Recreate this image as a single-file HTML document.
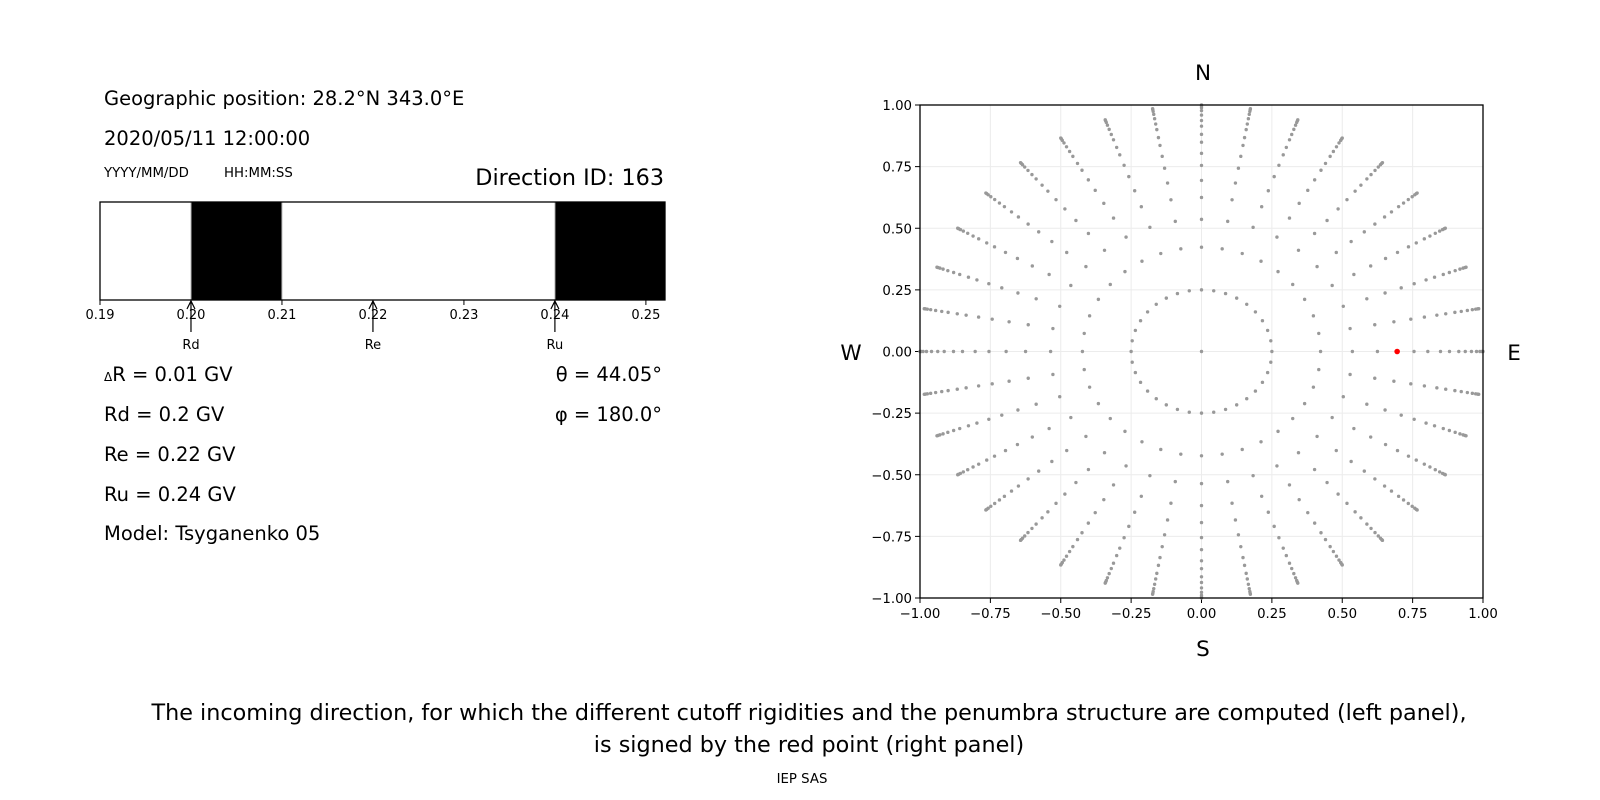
<!DOCTYPE html>
<html><head><meta charset="utf-8"><style>
body{margin:0;background:#fff;}
svg{display:block;font-family:"DejaVu Sans","Liberation Sans",sans-serif;}
</style></head><body>
<svg id="fig" width="1600" height="800" viewBox="0 0 1600 800">
<g>
<text x="104" y="105" font-size="19.5">Geographic position: 28.2°N 343.0°E</text>
<text x="104" y="145" font-size="19.5">2020/05/11 12:00:00</text>
<text x="104" y="177" font-size="13.3">YYYY/MM/DD</text>
<text x="224" y="177" font-size="13.3">HH:MM:SS</text>
<text x="664" y="185" font-size="22.3" text-anchor="end">Direction ID: 163</text>
<g id="bar"></g>
<text x="104" y="381" font-size="19.5"><tspan font-size="12">Δ</tspan>R = 0.01 GV</text>
<text x="104" y="421" font-size="19.5">Rd = 0.2 GV</text>
<text x="104" y="461" font-size="19.5">Re = 0.22 GV</text>
<text x="104" y="501" font-size="19.5">Ru = 0.24 GV</text>
<text x="104" y="540" font-size="19.5">Model: Tsyganenko 05</text>
<text x="662" y="381" font-size="19.5" text-anchor="end">θ = 44.05°</text>
<text x="662" y="421" font-size="19.5" text-anchor="end">φ = 180.0°</text>
</g>
<g id="sky"></g>
<text x="1203" y="80" font-size="21.5" text-anchor="middle">N</text>
<text x="1203" y="656" font-size="21.5" text-anchor="middle">S</text>
<text x="851" y="360" font-size="21.5" text-anchor="middle">W</text>
<text x="1514" y="360" font-size="21.5" text-anchor="middle">E</text>
<text x="809" y="720" font-size="22.3" text-anchor="middle">The incoming direction, for which the different cutoff rigidities and the penumbra structure are computed (left panel),</text>
<text x="809" y="752" font-size="22.3" text-anchor="middle">is signed by the red point (right panel)</text>
<text x="802" y="783" font-size="13.3" text-anchor="middle">IEP SAS</text>
</svg>
<script>
const barTicks=[0.19,0.20,0.21,0.22,0.23,0.24,0.25];
const barTickLabels=["0.19","0.20","0.21","0.22","0.23","0.24","0.25"];
const blackBands=[[0.20,0.21],[0.24,0.2521]];
const cutoffNames=["Rd","Re","Ru"];
const cutoffValues=[0.20,0.22,0.24];
const skyRadii=[0.25,0.423,0.536,0.625,0.694,0.755,0.804,0.849,0.881,0.914,0.937,0.959,0.977,0.989,0.996,1.0];
const skyAngles=[0,10,20,30,40,50,60,70,80,90,100,110,120,130,140,150,160,170,180,190,200,210,220,230,240,250,260,270,280,290,300,310,320,330,340,350];
const skyTicks=[-1,-0.75,-0.5,-0.25,0,0.25,0.5,0.75,1];
const skyTickLabels=["−1.00","−0.75","−0.50","−0.25","0.00","0.25","0.50","0.75","1.00"];
const redPoint=[0.695,0];
const NS="http://www.w3.org/2000/svg";
function mk(p,t,a){const e=document.createElementNS(NS,t);for(const k in a)e.setAttribute(k,a[k]);p.appendChild(e);return e;}
const bar=document.getElementById('bar');
const bx0=100,bx1=665,by0=202,by1=300,bmin=0.19,bmax=0.2521;
const bX=v=>bx0+(v-bmin)/(bmax-bmin)*(bx1-bx0);
blackBands.forEach(b=>{const r=mk(bar,'rect',{x:bX(b[0]),y:by0,width:bX(b[1])-bX(b[0]),height:by1-by0,fill:'#000',stroke:'#bbb','stroke-width':1});

});
const fr=mk(bar,'rect',{x:bx0,y:by0,width:bx1-bx0,height:by1-by0,fill:'none',stroke:'#000','stroke-width':1.3});


barTicks.forEach((t,i)=>{const x=bX(t);mk(bar,'line',{x1:x,x2:x,y1:by1,y2:by1+5,stroke:'#000'});
const tx=mk(bar,'text',{x:x,y:by1+19,'font-size':13,'text-anchor':'middle'});tx.textContent=barTickLabels[i];

});
cutoffValues.forEach((v,i)=>{const x=bX(v);
const g=mk(bar,'g',{});


mk(g,'line',{x1:x,x2:x,y1:332,y2:by1+1,stroke:'#000','stroke-width':1.2});
mk(g,'path',{d:`M${x-4},${by1+9} L${x},${by1+1} L${x+4},${by1+9}`,fill:'none',stroke:'#000','stroke-width':1.2});
const t=mk(g,'text',{x:x,y:349,'font-size':13,'text-anchor':'middle'});t.textContent=cutoffNames[i];});
const sky=document.getElementById('sky');
const sx0=920,sx1=1483,sy0=105,sy1=598;
const sX=v=>sx0+(v+1)/2*(sx1-sx0), sY=v=>sy1-(v+1)/2*(sy1-sy0);
skyTicks.forEach((t,i)=>{
mk(sky,'line',{x1:sX(t),x2:sX(t),y1:sy0,y2:sy1,stroke:'#ececec','stroke-width':1});
mk(sky,'line',{x1:sx0,x2:sx1,y1:sY(t),y2:sY(t),stroke:'#ececec','stroke-width':1});
mk(sky,'line',{x1:sX(t),x2:sX(t),y1:sy1,y2:sy1+5,stroke:'#000'});
mk(sky,'line',{x1:sx0-5,x2:sx0,y1:sY(t),y2:sY(t),stroke:'#000'});
const a=mk(sky,'text',{x:sX(t),y:sy1+20,'font-size':13.3,'text-anchor':'middle'});a.textContent=skyTickLabels[i];


const b=mk(sky,'text',{x:sx0-8,y:sY(t)+5,'font-size':13.3,'text-anchor':'end'});b.textContent=skyTickLabels[i];

});
const c0=mk(sky,'circle',{cx:sX(0),cy:sY(0),r:1.7,fill:'#999'});


skyAngles.forEach(a=>{const rad=a*Math.PI/180;skyRadii.forEach(r=>{
const c=mk(sky,'circle',{cx:sX(r*Math.sin(rad)),cy:sY(r*Math.cos(rad)),r:1.7,fill:'#999'});

});});
const rp=mk(sky,'circle',{cx:sX(redPoint[0]),cy:sY(redPoint[1]),r:2.8,fill:'#ff0000'});


const sf=mk(sky,'rect',{x:sx0,y:sy0,width:sx1-sx0,height:sy1-sy0,fill:'none',stroke:'#000','stroke-width':1.3});


</script>
</body></html>
